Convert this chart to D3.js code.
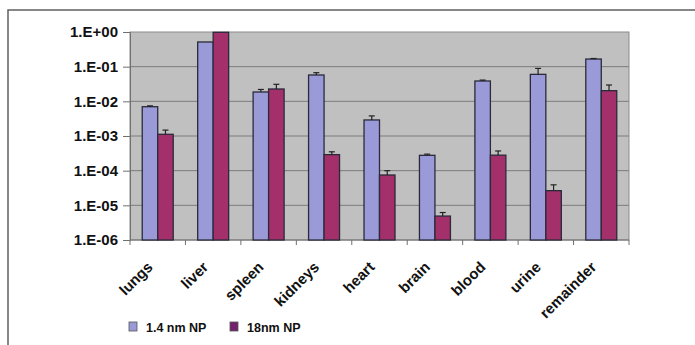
<!DOCTYPE html>
<html>
<head>
<meta charset="utf-8">
<script src="https://cdn.jsdelivr.net/npm/d3@7"></script>
<style>
  html, body { margin: 0; padding: 0; background: #fff; }
  svg { display: block; }
  text { font-family: "Liberation Sans", Arial, sans-serif; font-weight: bold; fill: #111; }
</style>
</head>
<body>
<svg id="chart" width="695" height="345"></svg>
<script>
// Organ distribution of the two nanoparticle sizes
const categories = ["lungs", "liver", "spleen", "kidneys", "heart", "brain", "blood", "urine", "remainder"];
const seriesNames = ["1.4 nm NP", "18nm NP"];
const small = [7.0e-3, 0.515, 0.0186, 0.0575, 2.9e-3, 2.77e-4, 0.0386, 0.060, 0.166];
const smallErr = [0.0004, 0, 0.0034, 0.0095, 0.0009, 0.000023, 0.0024, 0.029, 0.006];
const large = [1.12e-3, 0.98, 0.0227, 2.9e-4, 7.5e-5, 4.9e-6, 2.8e-4, 2.65e-5, 0.0203];
const largeErr = [0.00036, 0, 0.0083, 0.00006, 0.000025, 0.0000013, 0.00009, 0.0000125, 0.0093];
const yTicks = [1, 1e-1, 1e-2, 1e-3, 1e-4, 1e-5, 1e-6];
const yTickLabels = ["1.E+00", "1.E-01", "1.E-02", "1.E-03", "1.E-04", "1.E-05", "1.E-06"];

const colors = ["#9a9ad8", "#a3306a"];
const legendColors = ["#9a9ad8", "#74206a"];

const svg = d3.select("#chart");
const plot = { left: 130, right: 629, top: 32, bottom: 240 };

// outer frame (top and left edges)
svg.append("path")
  .attr("d", "M8,345 L8,10 L695,10")
  .attr("fill", "none").attr("stroke", "#606060").attr("stroke-width", 1.5);

const x0 = d3.scaleBand().domain(categories).range([plot.left, plot.right]).padding(0);
const x1 = d3.scaleBand().domain(seriesNames).range([0, x0.bandwidth()]).paddingInner(0).paddingOuter(0.79);
const y = d3.scaleLog().domain([1e-6, 1]).range([plot.bottom, plot.top]);

// plot background
svg.append("rect")
  .attr("x", plot.left).attr("y", plot.top)
  .attr("width", plot.right - plot.left).attr("height", plot.bottom - plot.top)
  .attr("fill", "#c0c0c0").attr("stroke", "#8c8c8c").attr("stroke-width", 1);

// horizontal gridlines
svg.append("g").selectAll("line").data(yTicks.slice(1, -1)).join("line")
  .attr("x1", plot.left).attr("x2", plot.right)
  .attr("y1", d => y(d)).attr("y2", d => y(d))
  .attr("stroke", "#7c7c7c").attr("stroke-width", 1);

// y axis
const yAxis = d3.axisLeft(y).tickValues(yTicks)
  .tickFormat((d, i) => yTickLabels[i]).tickSize(7).tickPadding(5);
const gy = svg.append("g").attr("transform", `translate(${plot.left},0)`).call(yAxis);
gy.select(".domain").attr("stroke", "#707070");
gy.selectAll(".tick line").attr("stroke", "#707070");
gy.selectAll(".tick text").attr("font-size", 15).attr("fill", "#111")
  .attr("font-family", "Liberation Sans, Arial, sans-serif").attr("font-weight", "bold");

// x axis line and ticks at category boundaries
svg.append("line")
  .attr("x1", plot.left).attr("x2", plot.right)
  .attr("y1", plot.bottom).attr("y2", plot.bottom)
  .attr("stroke", "#707070");
const bounds = categories.map(c => x0(c)).concat([plot.right]);
svg.append("g").selectAll("line").data(bounds).join("line")
  .attr("x1", d => d).attr("x2", d => d)
  .attr("y1", plot.bottom).attr("y2", plot.bottom + 5)
  .attr("stroke", "#707070");

// category labels
svg.append("g").selectAll("text").data(categories).join("text")
  .attr("transform", d => `translate(${x0(d) + x0.bandwidth() / 2 - 4},${plot.bottom + 28}) rotate(-45)`)
  .attr("text-anchor", "end")
  .attr("font-size", 15)
  .text(d => d);

// bars
const rows = categories.map((c, i) => ({
  cat: c,
  vals: [
    { s: seriesNames[0], v: small[i], e: smallErr[i], k: 0 },
    { s: seriesNames[1], v: large[i], e: largeErr[i], k: 1 }
  ]
}));

const groups = svg.append("g").selectAll("g").data(rows).join("g")
  .attr("transform", d => `translate(${x0(d.cat)},0)`);

groups.selectAll("rect").data(d => d.vals).join("rect")
  .attr("x", d => x1(d.s))
  .attr("y", d => y(d.v))
  .attr("width", x1.bandwidth())
  .attr("height", d => plot.bottom - y(d.v))
  .attr("fill", d => colors[d.k])
  .attr("stroke", "#2a2a3a").attr("stroke-width", 1.3);

// upper error whiskers
const whisk = groups.selectAll("g.err").data(d => d.vals.filter(v => v.e > 0)).join("g").attr("class", "err");
whisk.append("line")
  .attr("x1", d => x1(d.s) + x1.bandwidth() / 2).attr("x2", d => x1(d.s) + x1.bandwidth() / 2)
  .attr("y1", d => y(d.v)).attr("y2", d => y(d.v + d.e))
  .attr("stroke", "#222").attr("stroke-width", 1.2);
whisk.append("line")
  .attr("x1", d => x1(d.s) + x1.bandwidth() / 2 - 3).attr("x2", d => x1(d.s) + x1.bandwidth() / 2 + 3)
  .attr("y1", d => y(d.v + d.e)).attr("y2", d => y(d.v + d.e))
  .attr("stroke", "#222").attr("stroke-width", 1.2);

// legend
const legend = svg.append("g").attr("transform", "translate(129,322)");
const legX = [0, 101];
seriesNames.forEach((s, i) => {
  legend.append("rect")
    .attr("x", legX[i]).attr("y", 0).attr("width", 8).attr("height", 9)
    .attr("fill", legendColors[i]).attr("stroke", "#555").attr("stroke-width", 0.8);
  legend.append("text")
    .attr("x", legX[i] + 17).attr("y", 10)
    .attr("font-size", 12.5)
    .text(s);
});
</script>
</body>
</html>
